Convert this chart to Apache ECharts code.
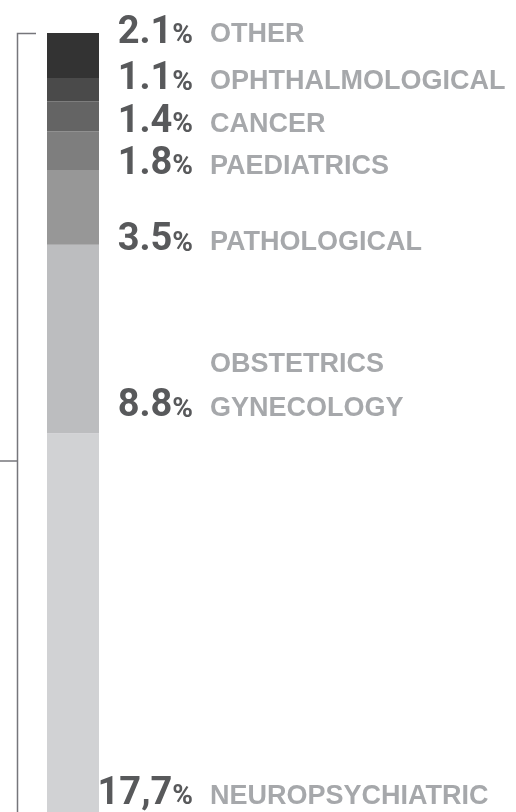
<!DOCTYPE html>
<html>
<head>
<meta charset="utf-8">
<script src="https://cdn.jsdelivr.net/npm/echarts@6/dist/echarts.min.js"></script>
<style>
html, body { margin: 0; padding: 0; background: #fff; }
#chart { width: 516px; height: 812px; }
</style>
</head>
<body>
<div id="chart"></div>
<script>
// data, top of the bar first
var categories = ['OTHER', 'OPHTHALMOLOGICAL', 'CANCER', 'PAEDIATRICS', 'PATHOLOGICAL', 'OBSTETRICS\nGYNECOLOGY', 'NEUROPSYCHIATRIC'];
var shares = [2.1, 1.1, 1.4, 1.8, 3.5, 8.8, 17.7];
var shareText = ['2.1', '1.1', '1.4', '1.8', '3.5', '8.8', '17,7'];
var segColors = ['#333333', '#4a4a4a', '#646464', '#7e7e7e', '#979797', '#bcbdbf', '#d1d2d4'];
// label offset from the top of its segment (px)
var labelDy = [-22, -20, -1, 11, 49, 140, 339];

function stackChart() {
    var myEchart = echarts.init(document.getElementById('chart'));
    var total = 0;
    shares.forEach(function(v) { total += v; });

    var series = [];
    // echarts stacks from the bottom up, so walk the list backwards
    for (var i = shares.length - 1; i >= 0; i--) {
        // visible segment, carries the percentage
        series.push({
            name: categories[i],
            type: 'bar',
            stack: 'bar',
            barWidth: '100%',
            barGap: '-100%',
            data: [shares[i]],
            itemStyle: { color: segColors[i] },
            label: {
                show: true,
                position: [146, labelDy[i]],
                align: 'right',
                verticalAlign: 'top',
                formatter: '{v|' + shareText[i] + '}{p|%}',
                rich: {
                    v: {
                        fontFamily: 'Roboto',
                        fontWeight: 'bold',
                        fontSize: 38,
                        color: '#58595b',
                        lineHeight: 44
                    },
                    p: {
                        fontFamily: 'Roboto',
                        fontWeight: 'bold',
                        fontSize: 28,
                        color: '#58595b',
                        lineHeight: 44,
                        padding: [6, 0, 0, 0]
                    }
                }
            }
        });
        // same segment again, transparent, carries the category name
        var lines = categories[i].split('\n');
        series.push({
            name: categories[i] + ' name',
            type: 'bar',
            stack: 'names',
            barWidth: '100%',
            barGap: '-100%',
            silent: true,
            data: [shares[i]],
            itemStyle: { color: 'rgba(0,0,0,0)' },
            label: {
                show: true,
                position: [163, labelDy[i] + 2 - (lines.length - 1) * 44],
                align: 'left',
                verticalAlign: 'top',
                formatter: categories[i],
                fontFamily: 'Liberation Sans',
                fontWeight: 'bold',
                fontSize: 27,
                color: '#a6a8ab',
                lineHeight: 44
            }
        });
    }

    var option = {
        animation: false,
        grid: {
            left: 47,
            top: 33,
            width: 52,
            bottom: 0
        },
        xAxis: {
            type: 'category',
            data: ['all'],
            show: false
        },
        yAxis: {
            type: 'value',
            min: 0,
            max: total,
            show: false
        },
        graphic: [{
            type: 'polyline',
            shape: { points: [[36, 33.5], [17.5, 33.5], [17.5, 812]] },
            style: { stroke: '#76767b', lineWidth: 1.5, fill: null }
        }, {
            type: 'line',
            shape: { x1: 0, y1: 461, x2: 17.5, y2: 461 },
            style: { stroke: '#76767b', lineWidth: 1.5 }
        }],
        series: series
    };
    myEchart.setOption(option);
}
stackChart();
</script>
</body>
</html>
